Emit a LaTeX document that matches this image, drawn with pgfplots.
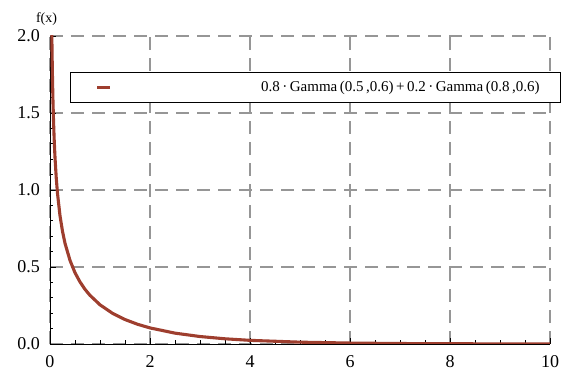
\documentclass[border=0pt]{standalone}
\usepackage{pgfplots}
\pgfplotsset{compat=1.18}
\usepackage{fontspec}
\setmainfont{Liberation Serif}
\definecolor{curve}{RGB}{158,62,46}
\definecolor{gridc}{RGB}{150,150,150}
\begin{document}
\begin{tikzpicture}
\begin{axis}[
  scale only axis, width=500pt, height=308pt,
  xmin=0, xmax=10, ymin=0, ymax=2,
  axis lines*=left,
  axis line style={black, line width=0.8pt},
  xtick={0,2,...,10}, ytick={0,0.5,...,2},
  minor x tick num=3, minor y tick num=4,
  tick align=inside, major tick length=6pt, minor tick length=3.5pt,
  tick style={black, line width=0.7pt},
  grid=major,
  major grid style={gridc, line width=2pt, dash pattern=on 13pt off 8pt},
  /pgf/number format/assume math mode=true,
  y tick label style={/pgf/number format/.cd, fixed, fixed zerofill, precision=1, /tikz/.cd,
    font=\fontsize{18}{20}\selectfont, inner sep=0pt, xshift=-10pt},
  x tick label style={font=\fontsize{18}{20}\selectfont, inner sep=0pt, yshift=-11pt},
  ylabel={f(x)},
  every axis y label/.style={at={(rel axis cs:0,1)}, anchor=base, yshift=13pt, xshift=-3.5pt,
    inner sep=0pt, font=\fontsize{14}{15}\selectfont},
  legend cell align=left,
  legend style={at={(0.04,0.8831)}, anchor=north west, draw=black, line width=0.8pt,
    inner sep=0pt, column sep=0pt, nodes={inner sep=0pt},
    font=\fontsize{15}{16}\selectfont},
  legend image code/.code={%
    \path[draw=none, fill=none] (0pt,-15pt) rectangle (26.7pt,15pt);
    \draw[#1, line width=2.8pt] (26.7pt,0pt) -- (40pt,0pt);},
]
\addplot[curve, line width=3.1pt] table {
x y
0.02 2.689
0.025 2.413
0.03 2.209
0.04 1.919
0.05 1.719
0.06 1.570
0.07 1.453
0.085 1.317
0.1 1.212
0.125 1.078
0.15 0.978
0.2 0.833
0.25 0.732
0.3 0.654
0.4 0.543
0.5 0.463
0.6 0.403
0.7 0.355
0.8 0.316
1.0 0.2545
1.25 0.1993
1.5 0.1589
1.75 0.1282
2.0 0.1044
2.5 0.0705
3.0 0.0485
3.5 0.0338
4.0 0.0237
5.0 0.0119
6.0 0.0061
7.0 0.0031
8.0 0.0016
9.0 0.0009
10.0 0.0005
};
\addlegendentry{\makebox[427.7pt][r]{0.8\,·\,Gamma\,(0.5\,,0.6)\,+\,0.2\,·\,Gamma\,(0.8\,,0.6)}\hspace*{21.3pt}}
\coordinate (O) at (rel axis cs:0,0);
\end{axis}
\pgfresetboundingbox
\path (O) ++(-50pt,-27pt) rectangle ++(565pt,371pt);
\end{tikzpicture}
\end{document}
